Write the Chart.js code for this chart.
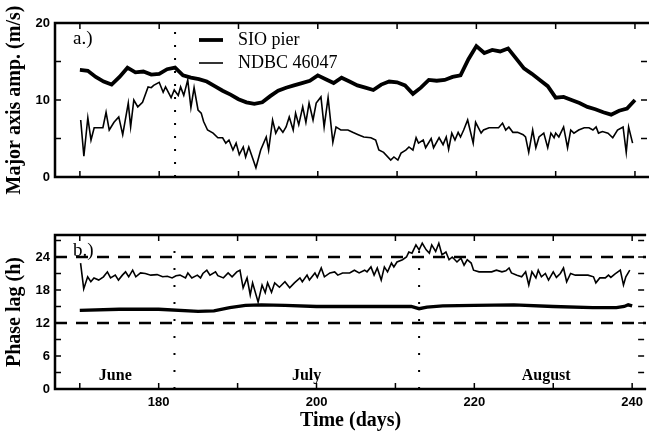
<!DOCTYPE html>
<html>
<head>
<meta charset="utf-8">
<script src="https://cdn.jsdelivr.net/npm/chart.js@4/dist/chart.umd.min.js"></script>
<style>
  html, body { margin: 0; padding: 0; background: #fff; }
  #wrap { position: relative; width: 649px; height: 433px; }
  #wrap canvas { position: absolute; left: 0; }
</style>
</head>
<body>
<div id="wrap">
  <canvas id="amp" width="649" height="200" style="top:0"></canvas>
  <canvas id="lag" width="649" height="233" style="top:200px"></canvas>
</div>
<script>
// ---- data ----
const dayTicks = [170, 180, 190, 200, 210, 220, 230, 240];
const dayLabels = [180, 200, 220, 240];
const ampTicks = [0, 5, 10, 15, 20];
const ampLabels = [0, 10, 20];
const lagTicks = [0, 3, 6, 9, 12, 15, 18, 21, 24, 27];
const lagLabels = [0, 6, 12, 18, 24];

const sioDays = [];
for (let d = 170; d <= 240; d++) sioDays.push(d);
const sioAmp = [13.9, 13.8, 13.0, 12.4, 12.0, 13.0, 14.2, 13.6, 13.7, 13.3,
  13.4, 14.0, 14.2, 13.2, 12.9, 12.7, 12.4, 11.8, 11.2, 10.7,
  10.1, 9.7, 9.5, 9.7, 10.5, 11.2, 11.6, 11.9, 12.2, 12.5,
  13.2, 12.7, 12.2, 12.9, 12.4, 11.9, 11.6, 11.3, 12.0, 12.4,
  12.3, 11.9, 10.8, 11.6, 12.6, 12.5, 12.6, 13.0, 13.2, 15.3,
  17.0, 16.1, 16.5, 16.3, 16.7, 15.4, 14.1, 13.4, 12.6, 11.8,
  10.3, 10.4, 10.0, 9.6, 9.1, 8.8, 8.4, 8.1, 8.6, 8.9, 10.0];

const ndbcAmpDays = [170.1, 170.5, 171.0, 171.4, 171.8, 172.3, 172.9, 173.3, 173.7, 174.3,
  174.9, 175.4, 176.1, 176.4, 176.8, 177.3, 177.9, 178.6, 179.0, 179.3,
  180.0, 180.5, 180.8, 181.5, 181.9, 182.4, 182.7, 183.1, 183.6, 184.0,
  184.4, 184.9, 185.3, 185.6, 186.1, 186.8, 187.4, 188.0, 188.4, 188.8,
  189.3, 189.7, 190.1, 190.6, 190.9, 191.3, 191.6, 192.2, 192.8, 193.5,
  193.8, 194.3, 194.7, 195.1, 195.6, 196.0, 196.4, 196.9, 197.2, 197.6,
  198.1, 198.5, 198.9, 199.4, 199.8, 200.4, 200.8, 201.3, 201.9, 202.3,
  202.9, 203.8, 204.4, 205.1, 205.8, 206.7, 207.3, 207.7, 208.3, 209.2,
  209.6, 210.1, 210.5, 211.1, 211.5, 212.0, 212.4, 212.7, 213.3, 213.6,
  214.3, 214.6, 215.3, 215.8, 216.2, 216.5, 216.9, 217.3, 217.7, 218.0,
  218.4, 218.9, 219.6, 219.9, 220.6, 220.9, 221.6, 222.2, 222.8, 223.3,
  223.7, 224.1, 224.6, 225.2, 225.9, 226.2, 226.6, 227.1, 227.5, 227.9,
  228.5, 229.0, 229.4, 229.8, 230.0, 230.4, 231.0, 231.5, 231.9, 232.3,
  232.9, 233.6, 234.2, 234.7, 235.1, 235.4, 235.9, 236.6, 237.2, 237.8,
  238.5, 238.9, 239.2, 239.7];
const ndbcAmp = [7.4, 2.7, 7.7, 4.8, 6.4, 6.4, 6.4, 8.4, 6.1, 7.1,
  7.8, 5.5, 9.6, 6.5, 10.0, 9.1, 9.7, 11.7, 11.6, 11.9,
  12.3, 11.0, 11.7, 10.3, 11.3, 10.6, 11.7, 10.6, 12.6, 9.0,
  11.6, 8.7, 8.3, 7.2, 6.1, 5.7, 5.1, 5.1, 4.4, 4.8,
  3.5, 4.4, 2.9, 3.9, 2.6, 3.9, 3.0, 1.2, 3.5, 5.2,
  3.5, 7.4, 5.7, 6.5, 5.8, 6.5, 7.8, 6.1, 8.3, 6.8,
  9.1, 7.1, 9.6, 7.4, 9.6, 10.4, 6.5, 10.3, 4.5, 6.5,
  6.1, 6.1, 5.8, 5.5, 5.2, 5.1, 4.8, 3.5, 3.2, 2.2,
  2.6, 2.2, 3.1, 3.5, 3.9, 3.5, 5.1, 4.4, 4.8, 3.8,
  5.0, 3.8, 5.1, 4.2, 5.2, 3.6, 5.7, 4.8, 5.8, 5.2,
  6.1, 7.4, 4.4, 7.1, 5.7, 6.1, 6.4, 6.4, 6.4, 7.0,
  6.1, 6.5, 5.8, 5.8, 5.5, 5.2, 3.2, 6.1, 3.8, 5.2,
  5.7, 3.8, 5.7, 5.1, 5.7, 5.2, 6.5, 3.8, 6.1, 5.7,
  6.1, 6.4, 6.4, 6.1, 6.5, 5.7, 5.9, 5.7, 5.1, 6.1,
  6.5, 3.2, 6.5, 4.4];

const sioLagDays = [170, 175, 180, 185, 187, 189, 191, 193, 196, 200, 205, 210, 212, 213, 214, 216, 220, 225, 230, 235, 238, 239, 239.5, 240];
const sioLag = [14.3, 14.5, 14.5, 14.1, 14.2, 14.8, 15.2, 15.3, 15.2, 15.0, 15.0, 15.0, 15.0, 14.6, 14.9, 15.1, 15.2, 15.3, 15.0, 14.8, 14.8, 15.0, 15.3, 15.1];

const ndbcLagDays = [170.1, 170.5, 171.0, 171.4, 171.8, 172.4, 173.0, 173.5, 173.9, 174.5,
  174.9, 175.4, 175.8, 176.2, 176.7, 177.1, 177.7, 178.3, 179.0, 179.8,
  180.5, 181.1, 181.7, 182.2, 182.7, 183.4, 183.7, 184.2, 184.9, 185.3,
  185.6, 186.1, 186.5, 187.2, 187.5, 188.2, 188.8, 189.3, 189.9, 190.3,
  190.7, 191.2, 191.6, 191.9, 192.6, 193.1, 193.5, 193.8, 194.3, 194.7,
  195.3, 196.0, 196.6, 197.2, 197.9, 198.2, 198.8, 199.1, 199.8, 200.1,
  200.6, 201.0, 201.7, 202.3, 202.7, 203.3, 204.2, 204.8, 205.4, 206.1,
  206.4, 206.9, 207.3, 207.7, 208.2, 208.6, 209.0, 209.5, 209.8, 210.2,
  210.9, 211.4, 211.7, 212.1, 212.6, 213.0, 213.4, 213.9, 214.3, 214.6,
  215.1, 215.5, 215.9, 216.4, 216.8, 217.2, 217.8, 218.3, 218.7, 219.1,
  219.6, 219.9, 220.6, 221.5, 222.2, 222.8, 223.5, 224.0, 224.4, 224.7,
  225.4, 226.0, 226.5, 226.9, 227.3, 227.8, 228.1, 228.5, 229.0, 229.4,
  230.0, 230.4, 230.9, 231.3, 231.7, 232.2, 232.8, 233.6, 234.4, 235.1,
  235.4, 235.9, 236.6, 237.0, 237.3, 237.8, 238.5, 238.9, 239.2, 239.7];
const ndbcLag = [22.9, 18.2, 20.4, 19.5, 20.2, 19.8, 20.4, 21.3, 20.2, 20.7,
  19.8, 20.7, 21.3, 20.4, 21.6, 20.4, 21.1, 21.0, 20.7, 20.8,
  20.4, 20.5, 20.2, 20.6, 20.7, 20.2, 21.1, 20.2, 20.7, 20.2,
  21.0, 21.6, 20.7, 21.3, 20.6, 20.2, 21.1, 20.4, 21.3, 21.6,
  18.4, 20.2, 17.1, 19.3, 15.8, 18.9, 17.5, 19.3, 17.6, 19.3,
  18.5, 19.5, 18.4, 19.3, 20.2, 19.5, 20.7, 19.8, 21.1, 20.3,
  22.0, 20.4, 21.1, 21.3, 20.7, 21.1, 21.1, 21.6, 21.1, 21.6,
  21.3, 22.2, 20.7, 22.0, 19.8, 22.2, 21.3, 22.9, 22.2, 23.1,
  23.5, 24.0, 24.9, 24.7, 26.2, 25.3, 26.5, 25.3, 24.7, 26.2,
  25.0, 26.5, 24.4, 24.9, 23.5, 24.0, 23.1, 23.8, 22.5, 23.5,
  22.9, 21.6, 21.3, 21.3, 21.3, 21.6, 21.3, 21.5, 22.0, 21.1,
  20.7, 20.4, 21.3, 18.9, 21.3, 20.2, 21.6, 20.4, 21.0, 19.8,
  21.3, 20.3, 21.0, 22.0, 19.5, 21.0, 20.7, 20.7, 20.7, 20.4,
  19.3, 20.2, 20.2, 20.7, 20.3, 20.9, 21.6, 18.9, 20.4, 21.6];

const lagGuides = [24, 12];        // dashed reference levels (h)
const markDays = [182, 213];       // dotted vertical markers
const months = ['June', 'July', 'August'];
const monthDays = [174.5, 198.75, 229.1];
const monthLevel = 2.4;

// ---- layout ----
const X_MIN = 166.86, X_MAX = 241.77;
const SANS = '"Liberation Sans", Arial, sans-serif';
const SERIF = '"Liberation Serif", "Times New Roman", serif';

const pts = (xs, ys) => xs.map((x, i) => ({ x: x, y: ys[i] }));
const line = (data, width, dash) => ({
  data: data, borderColor: '#000', borderWidth: width, borderDash: dash || [],
  pointRadius: 0, tension: 0, fill: false
});

function xScale(withLabels) {
  return {
    type: 'linear', min: X_MIN, max: X_MAX,
    afterBuildTicks: s => { s.ticks = dayTicks.map(v => ({ value: v })); },
    afterFit: s => { s.height = withLabels ? 44 : 23; },
    grid: { display: false, drawTicks: false },
    border: { display: false },
    ticks: {
      display: withLabels, padding: 6, autoSkip: false, maxRotation: 0, color: '#000',
      font: { family: SANS, size: 13, weight: 'bold' },
      callback: v => dayLabels.includes(v) ? String(v) : ''
    },
    title: {
      display: withLabels, text: 'Time (days)', color: '#000',
      font: { family: SERIF, size: 20, weight: 'bold' }, padding: { top: 0, bottom: 0 }
    }
  };
}

function yScale(min, max, ticks, labels, title) {
  return {
    min: min, max: max,
    afterBuildTicks: s => { s.ticks = ticks.map(v => ({ value: v })); },
    afterFit: s => { s.width = 55; },
    grid: { display: false, drawTicks: false },
    border: { display: false },
    ticks: {
      padding: 5, color: '#000', autoSkip: false,
      font: { family: SANS, size: 13, weight: 'bold' },
      callback: v => labels.includes(v) ? String(v) : ''
    },
    title: {
      display: true, text: title, color: '#000',
      font: { family: SERIF, size: 20, weight: 'bold' }, padding: { top: 3, bottom: 0 }
    }
  };
}

// frame, inner ticks, panel tag, legend and month names
const frame = {
  id: 'frame',
  afterDatasetsDraw(chart, args, o) {
    const { ctx, chartArea: a } = chart;
    const x = chart.scales.x, y = chart.scales.y;
    ctx.save();
    ctx.strokeStyle = '#000';
    ctx.fillStyle = '#000';
    ctx.lineWidth = 1.5;
    ctx.beginPath();
    x.ticks.forEach(t => {
      const p = x.getPixelForValue(t.value);
      ctx.moveTo(p, a.top); ctx.lineTo(p, a.top + 6);
      ctx.moveTo(p, a.bottom); ctx.lineTo(p, a.bottom - 6);
    });
    y.ticks.forEach(t => {
      const p = y.getPixelForValue(t.value);
      ctx.moveTo(a.left, p); ctx.lineTo(a.left + 6, p);
      ctx.moveTo(a.right - 2, p); ctx.lineTo(a.right - 8, p);
    });
    ctx.stroke();

    ctx.lineWidth = 2.5;
    ctx.beginPath();
    ctx.moveTo(a.right, a.top); ctx.lineTo(a.left, a.top);
    ctx.lineTo(a.left, a.bottom); ctx.lineTo(a.right, a.bottom);
    ctx.stroke();

    ctx.textBaseline = 'middle';
    ctx.textAlign = 'left';
    ctx.font = '19px ' + SERIF;
    ctx.fillText(o.tag, a.left + 18, a.top + 16);

    if (o.legend) {
      const lx = a.left + 144;
      chart.data.datasets.slice(0, 2).forEach((ds, i) => {
        const ly = a.top + 17 + i * 23;
        ctx.lineWidth = ds.borderWidth;
        ctx.beginPath(); ctx.moveTo(lx, ly); ctx.lineTo(lx + 24, ly); ctx.stroke();
        ctx.font = '18px ' + SERIF;
        ctx.fillText(ds.label, lx + 39, ly);
      });
    }

    if (o.months) {
      ctx.textAlign = 'center';
      ctx.font = 'bold 16px ' + SERIF;
      months.forEach((m, i) => {
        ctx.fillText(m, x.getPixelForValue(monthDays[i]), y.getPixelForValue(monthLevel));
      });
    }
    ctx.restore();
  }
};

const common = {
  responsive: false, animation: false, devicePixelRatio: 1,
  layout: { padding: { top: 0, right: 0, bottom: 0, left: 0 } },
  plugins: { legend: { display: false }, tooltip: { enabled: false } }
};

new Chart(document.getElementById('amp'), {
  type: 'line',
  data: {
    datasets: [
      Object.assign(line(pts(sioDays, sioAmp), 3.8), { label: 'SIO pier' }),
      Object.assign(line(pts(ndbcAmpDays, ndbcAmp), 1.6), { label: 'NDBC 46047' }),
      line([{ x: markDays[0], y: 0 }, { x: markDays[0], y: 20 }], 2, [2, 11])
    ]
  },
  options: Object.assign({}, common, {
    layout: { padding: { top: 23, right: 0, bottom: 0, left: 0 } },
    scales: { x: xScale(false), y: yScale(0, 20, ampTicks, ampLabels, 'Major axis amp. (m/s)') },
    plugins: Object.assign({}, common.plugins, { frame: { tag: 'a.)', legend: true, months: false } })
  }),
  plugins: [frame]
});

new Chart(document.getElementById('lag'), {
  type: 'line',
  data: {
    datasets: [
      Object.assign(line(pts(sioLagDays, sioLag), 3.3), { label: 'SIO pier' }),
      Object.assign(line(pts(ndbcLagDays, ndbcLag), 1.6), { label: 'NDBC 46047' }),
      ...lagGuides.map(v => line([{ x: X_MIN, y: v }, { x: X_MAX, y: v }], 2.3, [12, 9])),
      ...markDays.map(d => line([{ x: d, y: 0 }, { x: d, y: 28 }], 2, [2, 15]))
    ]
  },
  options: Object.assign({}, common, {
    layout: { padding: { top: 35, right: 0, bottom: 0, left: 0 } },
    scales: { x: xScale(true), y: yScale(0, 28, lagTicks, lagLabels, 'Phase lag (h)') },
    plugins: Object.assign({}, common.plugins, { frame: { tag: 'b.)', legend: false, months: true } })
  }),
  plugins: [frame]
});
</script>
</body>
</html>
